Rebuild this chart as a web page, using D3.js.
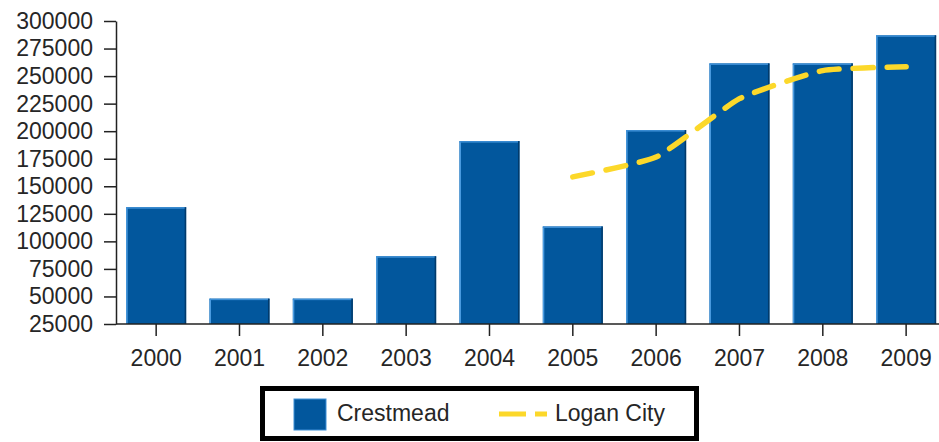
<!DOCTYPE html>
<html>
<head>
<meta charset="utf-8">
<script src="https://cdn.jsdelivr.net/npm/d3@7"></script>
<style>
  body { margin: 0; background: #fff; }
  text { font-family: "Liberation Sans", Arial, sans-serif; }
</style>
</head>
<body>
<svg id="chart" width="939" height="442"></svg>
<script>
var years = ["2000","2001","2002","2003","2004","2005","2006","2007","2008","2009"];
var crestmead = [131000, 48000, 48000, 86500, 191000, 113500, 201000, 261500, 261500, 287000];
var loganYears = ["2005","2006","2007","2008","2009"];
var loganCity = [158500, 176500, 229500, 255000, 258500];
var yTicks = [25000, 50000, 75000, 100000, 125000, 150000, 175000, 200000, 225000, 250000, 275000, 300000];

var barColor = "#02579d",
    lineColor = "#fcd82a";

var svg = d3.select("#chart");

var xScale = d3.scaleBand()
    .domain(years)
    .range([114.5, 947.8])
    .paddingInner(0.28)
    .paddingOuter(0.14);

var yScale = d3.scaleLinear()
    .domain([25000, 300000])
    .range([324, 21]);

// bars
var bars = svg.append("g").selectAll("g")
    .data(years.map(function(y, i) { return {year: y, value: crestmead[i]}; }))
    .enter().append("g");

bars.append("rect")
    .attr("x", function(d) { return xScale(d.year); })
    .attr("y", function(d) { return yScale(d.value); })
    .attr("width", xScale.bandwidth())
    .attr("height", function(d) { return yScale(25000) - yScale(d.value); })
    .attr("fill", barColor);

// light left edge, dark right edge
bars.append("rect")
    .attr("x", function(d) { return xScale(d.year); })
    .attr("y", function(d) { return yScale(d.value); })
    .attr("width", 1.5)
    .attr("height", function(d) { return yScale(25000) - yScale(d.value); })
    .attr("fill", "#4a9be0");
bars.append("rect")
    .attr("x", function(d) { return xScale(d.year); })
    .attr("y", function(d) { return yScale(d.value); })
    .attr("width", xScale.bandwidth())
    .attr("height", 1.5)
    .attr("fill", "#3d8fd6");
bars.append("rect")
    .attr("x", function(d) { return xScale(d.year) + xScale.bandwidth() - 1.5; })
    .attr("y", function(d) { return yScale(d.value); })
    .attr("width", 1.5)
    .attr("height", function(d) { return yScale(25000) - yScale(d.value); })
    .attr("fill", "#013a6b");

// line
var line = d3.line()
    .x(function(d) { return xScale(d.year) + xScale.bandwidth() / 2; })
    .y(function(d) { return yScale(d.value); })
    .curve(d3.curveCardinal.tension(0.55));

svg.append("path")
    .datum(loganYears.map(function(y, i) { return {year: y, value: loganCity[i]}; }))
    .attr("d", line)
    .attr("fill", "none")
    .attr("stroke", lineColor)
    .attr("stroke-width", 5.5)
    .attr("stroke-linecap", "round")
    .attr("stroke-dasharray", "20,14");

// axes
var xAxis = d3.axisBottom(xScale).tickSize(12).tickSizeOuter(0).tickPadding(14);
var yAxis = d3.axisLeft(yScale).tickValues(yTicks).tickSize(12).tickSizeOuter(0).tickPadding(11)
    .tickFormat(d3.format("d"));

var gx = svg.append("g")
    .attr("transform", "translate(0,324)")
    .call(xAxis);
gx.select(".domain").attr("d", "M116,0H939");

var gy = svg.append("g")
    .attr("transform", "translate(116,0)")
    .call(yAxis);

[gx, gy].forEach(function(g) {
    g.select(".domain").attr("stroke", "#222").attr("stroke-width", 1.5);
    g.selectAll(".tick line").attr("stroke", "#222").attr("stroke-width", 1.5);
    g.selectAll(".tick text").attr("fill", "#262626").style("font-size", "23px")
        .style("font-family", "'Liberation Sans', Arial, sans-serif");
});

// legend
var legend = svg.append("g");
legend.append("rect")
    .attr("x", 262.5).attr("y", 388.5)
    .attr("width", 434).attr("height", 50)
    .attr("fill", "#fff").attr("stroke", "#000").attr("stroke-width", 5);
legend.append("rect")
    .attr("x", 294).attr("y", 399)
    .attr("width", 32).attr("height", 31)
    .attr("fill", barColor).attr("stroke", "#3d8fd6").attr("stroke-width", 1);
legend.append("text")
    .attr("x", 337).attr("y", 421)
    .attr("fill", "#262626").style("font-size", "23px")
    .text("Crestmead");
legend.append("line")
    .attr("x1", 499).attr("x2", 547).attr("y1", 414).attr("y2", 414)
    .attr("stroke", lineColor).attr("stroke-width", 5)
    .attr("stroke-dasharray", "27,9");
legend.append("text")
    .attr("x", 555).attr("y", 421)
    .attr("fill", "#262626").style("font-size", "23px")
    .text("Logan City");
</script>
</body>
</html>
